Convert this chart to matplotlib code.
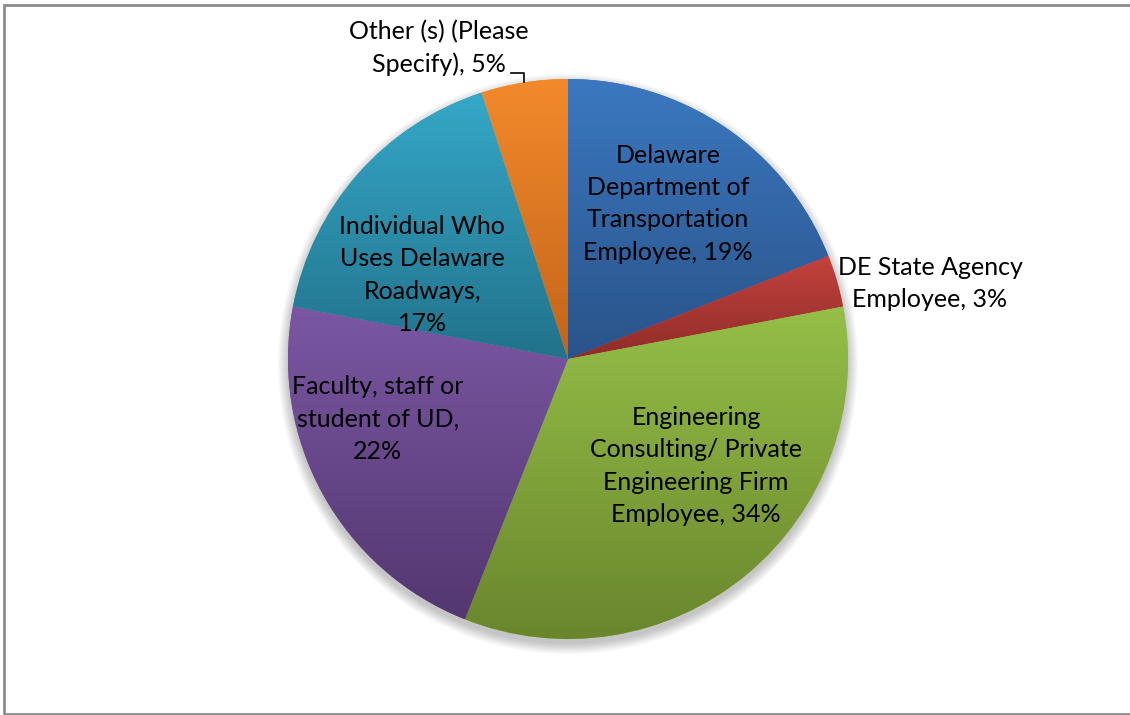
import numpy as np
import matplotlib.pyplot as plt
from matplotlib.colors import LinearSegmentedColormap
from matplotlib.patches import Circle, Rectangle

plt.rcParams['font.family'] = ['Lato', 'DejaVu Sans']

# data
labels = ["Delaware\nDepartment of\nTransportation\nEmployee, 19%",
          "DE State Agency\nEmployee, 3%",
          "Engineering\nConsulting/ Private\nEngineering Firm\nEmployee, 34%",
          "Faculty, staff or\nstudent of UD,\n22%",
          "Individual Who\nUses Delaware\nRoadways,\n17%",
          "Other (s) (Please\nSpecify), 5%"]
values = [19, 3, 34, 22, 17, 5]

# gradient colours, top -> bottom
top_colors = ['#3b78c0', '#c4423d', '#95bf48', '#7b57a3', '#35a8c8', '#f28a2c']
bottom_colors = ['#2a5389', '#8f2c29', '#6a862d', '#533770', '#22728b', '#c4641a']

# label centres (pie radius units)
label_xy = [(0.357, 0.554), (1.293, 0.271), (0.457, -0.382),
            (-0.679, -0.214), (-0.521, 0.300), (-0.460, 1.110)]

W, H = 1130, 715
cx, cy, R = 568, 359, 280

fig = plt.figure(figsize=(W / 100, H / 100), dpi=100)
ax = fig.add_axes([0, 0, 1, 1])

# soft shadow under the pie
for i in range(10):
    ax.add_patch(Circle((0, -0.018), 1.0 + 0.004 * i, color='k', alpha=0.025, lw=0, zorder=0))

wedges, _ = ax.pie(values, startangle=90, counterclock=False, radius=1,
                   colors=top_colors, wedgeprops=dict(linewidth=0))

grad = np.linspace(0, 1, 256).reshape(-1, 1)
for w, c1, c2 in zip(wedges, top_colors, bottom_colors):
    w.set_zorder(2)
    ext = w.get_path().get_extents()
    cmap = LinearSegmentedColormap.from_list('g', [c1, c2])
    im = ax.imshow(grad, cmap=cmap, extent=[ext.x0, ext.x1, ext.y0, ext.y1],
                   origin='upper', aspect='auto', zorder=3, interpolation='bilinear')
    im.set_clip_path(w)

for lab, (x, y) in zip(labels, label_xy):
    ax.text(x, y, lab, ha='center', va='center', fontsize=18, color='black',
            linespacing=1.48, zorder=5)

# leader line for the small "Other" slice
w = wedges[-1]
mid = np.deg2rad((w.theta1 + w.theta2) / 2)
ex, ey = np.cos(mid), np.sin(mid)
ax.plot([ex - 0.046, ex, ex], [ey + 0.035, ey + 0.035, ey + 0.002], color='black', lw=1.2, zorder=5)

ax.set_aspect('auto')
ax.set_xlim(-cx / R, (W - cx) / R)
ax.set_ylim((cy - H) / R, cy / R)
ax.axis('off')

fig.patches.append(Rectangle((4 / W, 1 / H), 2, (H - 6) / H, transform=fig.transFigure,
                             fill=False, edgecolor='#8c8c8c', lw=2))

fig.savefig('out.png', dpi=100)
